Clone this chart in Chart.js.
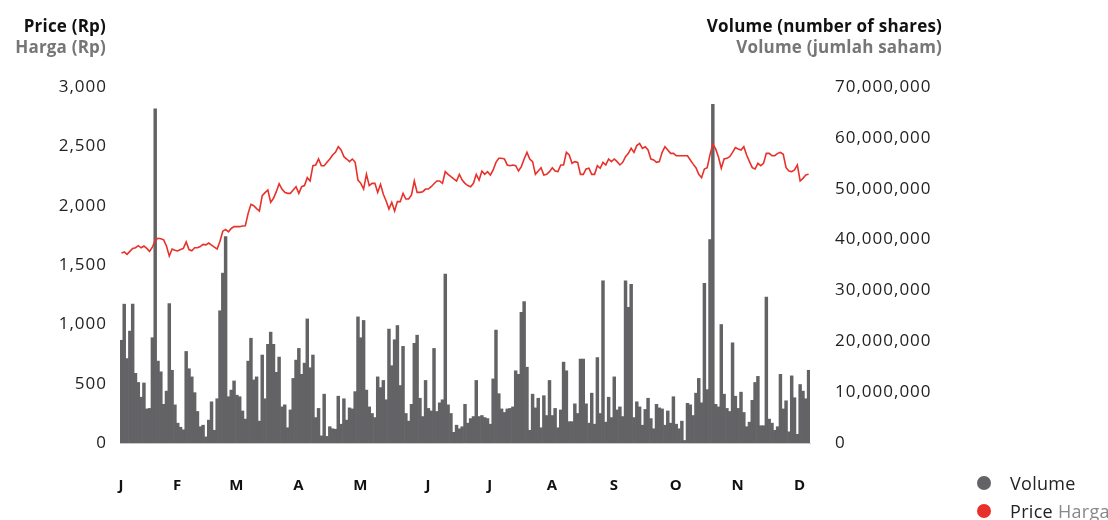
<!DOCTYPE html>
<html>
<head>
<meta charset="utf-8">
<script src="https://cdn.jsdelivr.net/npm/chart.js@4.4.1/dist/chart.umd.min.js"></script>
<style>
  body { margin: 0; background: #fff; font-family: "Open Sans", sans-serif; }
  #wrap { position: relative; width: 1108px; height: 520px; }
  canvas { position: absolute; left: 0; top: 0; }
  .t { position: absolute; font-size: 17px; font-weight: bold; line-height: 21px; letter-spacing: 0.2px; white-space: nowrap; }
  .dark { color: #111; }
  .grey { color: #767676; }
  .lg { position: absolute; font-size: 18px; line-height: 22px; letter-spacing: 0.3px; color: #222; white-space: nowrap; }
  .dot { position: absolute; width: 14px; height: 14px; border-radius: 50%; }
</style>
</head>
<body>
<div id="wrap">
  <canvas id="stock-chart" width="1108" height="520"></canvas>
  <div class="t dark" style="right:1002px; top:15px;">Price (Rp)</div>
  <div class="t grey" style="right:1002px; top:36px;">Harga (Rp)</div>
  <div class="t dark" style="right:166px; top:15px;">Volume (number of shares)</div>
  <div class="t grey" style="right:166px; top:36px;">Volume (jumlah saham)</div>
  <div class="dot" style="left:977px; top:476px; background:#636366;"></div>
  <div class="lg" style="left:1010px; top:472px;">Volume</div>
  <div class="dot" style="left:977px; top:504px; background:#e8312a;"></div>
  <div class="lg" style="left:1010px; top:500px;">Price <span style="color:#888">Harga</span></div>
</div>
<script>
// Month letters and the trading-day index where each one is printed
var monthLetters = ['J', 'F', 'M', 'A', 'M', 'J', 'J', 'A', 'S', 'O', 'N', 'D'];
var monthStartIdx = [0, 20, 41, 63, 85, 109, 131, 153, 175, 197, 219, 241];

// Daily closing price (Rp)
var price = [
  1600, 1610, 1590, 1615, 1640, 1646, 1663, 1645, 1660, 1640,
  1615, 1650, 1710, 1725, 1722, 1712, 1660, 1575, 1635, 1625,
  1618, 1630, 1640, 1695, 1630, 1620, 1645, 1645, 1655, 1674,
  1670, 1685, 1668, 1650, 1635, 1700, 1785, 1800, 1780, 1808,
  1823, 1823, 1823, 1828, 1831, 1935, 2011, 2000, 1975, 1955,
  2084, 2110, 2132, 2028, 2062, 2118, 2185, 2140, 2112, 2104,
  2104, 2132, 2160, 2104, 2160, 2169, 2236, 2208, 2337, 2343,
  2393, 2337, 2337, 2365, 2393, 2427, 2449, 2497, 2469, 2413,
  2393, 2371, 2393, 2365, 2216, 2188, 2140, 2264, 2169, 2188,
  2188, 2112, 2180, 2096, 2039, 1972, 2028, 1955, 2034, 2034,
  2104, 2056, 2056, 2090, 2208, 2112, 2112, 2118, 2140, 2140,
  2160, 2185, 2208, 2208, 2188, 2287, 2264, 2244, 2225, 2208,
  2264, 2216, 2188, 2169, 2160, 2188, 2264, 2216, 2292, 2264,
  2287, 2258, 2301, 2365, 2399, 2399, 2393, 2343, 2337, 2343,
  2337, 2292, 2329, 2393, 2449, 2393, 2371, 2264, 2292, 2320,
  2258, 2264, 2287, 2320, 2292, 2287, 2343, 2343, 2449, 2427,
  2357, 2371, 2365, 2264, 2264, 2309, 2315, 2264, 2264, 2337,
  2315, 2365, 2343, 2393, 2371, 2393, 2371, 2343, 2365, 2413,
  2441, 2483, 2449, 2506, 2525, 2483, 2497, 2469, 2393, 2385,
  2365, 2371, 2449, 2497, 2469, 2441, 2441, 2421, 2421, 2421,
  2421, 2421, 2385, 2350, 2320, 2264, 2236, 2309, 2320, 2430,
  2517, 2478, 2410, 2315, 2393, 2399, 2413, 2449, 2489, 2478,
  2469, 2497, 2427, 2371, 2320, 2309, 2357, 2337, 2357, 2441,
  2441, 2421, 2421, 2441, 2449, 2433, 2320, 2292, 2287, 2301,
  2343, 2208, 2230, 2258, 2264
];

// Daily traded volume, millions of shares
var volumeMillions = [
  20.2, 27.3, 16.6, 22.0, 27.3, 13.7, 11.9, 9.0, 11.8, 6.7,
  6.8, 20.7, 65.7, 16.1, 14.0, 7.6, 10.2, 27.4, 14.3, 7.5,
  3.9, 3.1, 2.6, 18.0, 14.6, 13.0, 9.9, 6.2, 3.2, 3.5,
  1.2, 4.5, 8.1, 2.5, 8.7, 26.0, 33.4, 40.6, 9.1, 10.4,
  12.2, 9.4, 9.1, 6.3, 4.7, 16.1, 20.6, 12.4, 13.0, 4.3,
  17.3, 8.7, 19.4, 21.8, 19.4, 13.9, 16.9, 7.1, 7.5, 3.0,
  6.5, 12.7, 16.3, 18.6, 13.5, 15.7, 24.4, 14.8, 17.3, 5.0,
  6.8, 1.4, 9.6, 1.3, 3.2, 2.8, 2.7, 9.2, 3.7, 8.7,
  4.5, 6.9, 6.7, 10.1, 24.8, 20.7, 24.1, 10.4, 7.1, 5.8,
  5.0, 13.0, 10.9, 12.3, 8.5, 22.4, 15.2, 20.3, 23.1, 11.3,
  19.0, 5.8, 4.3, 7.6, 19.6, 21.2, 8.8, 5.2, 12.3, 6.8,
  6.3, 18.6, 6.2, 7.9, 8.5, 33.2, 7.5, 5.8, 2.1, 3.5,
  2.8, 3.2, 7.6, 3.9, 4.8, 5.2, 12.3, 5.2, 5.4, 5.0,
  4.8, 3.7, 12.6, 22.2, 9.7, 6.7, 6.0, 6.7, 6.8, 7.1,
  14.2, 13.5, 25.7, 27.8, 14.9, 2.5, 9.6, 6.9, 8.8, 3.0,
  9.3, 5.4, 12.3, 5.4, 6.8, 3.0, 6.5, 15.9, 14.2, 4.2,
  4.2, 7.7, 5.8, 16.5, 16.5, 7.7, 3.9, 9.8, 3.7, 16.8,
  5.8, 31.9, 4.1, 9.0, 5.0, 13.0, 6.5, 7.1, 5.2, 31.9,
  26.7, 31.2, 5.0, 8.1, 7.1, 3.5, 6.6, 8.8, 4.8, 2.8,
  7.6, 6.9, 6.7, 3.5, 6.3, 3.9, 9.1, 3.7, 2.8, 4.3,
  0.5, 7.8, 7.5, 5.4, 9.8, 12.7, 7.9, 31.4, 10.5, 40.0,
  66.6, 7.6, 7.1, 23.3, 9.6, 6.8, 6.2, 19.7, 9.2, 6.8,
  10.0, 6.0, 3.2, 4.1, 8.4, 11.9, 13.1, 3.4, 3.4, 28.7,
  4.7, 3.9, 2.5, 3.2, 13.5, 6.7, 8.3, 2.2, 13.2, 8.9,
  1.7, 11.5, 10.2, 8.7, 14.3
];

// one category per trading day
var days = [];
for (var i = 0; i < price.length; i++) days.push(String(i + 1));

var volume = volumeMillions.map(function(v) { return v * 1000000; });

function fmt(n) {
  return Math.round(n).toString().replace(/\B(?=(\d{3})+(?!\d))/g, ',');
}

var tickFont = { family: '"Open Sans", sans-serif', size: 17 };

// reference tick labels are set a little wider than Open Sans
var spacingPlugin = {
  id: 'spacing',
  beforeDraw: function(chart) { chart.ctx.letterSpacing = '1px'; }
};

var ctx = document.getElementById('stock-chart').getContext('2d');
var chart = new Chart(ctx, {
  type: 'bar',
  data: {
    labels: days,
    datasets: [{
      type: 'line',
      label: 'Price',
      data: price,
      yAxisID: 'yPrice',
      borderColor: '#e8312a',
      borderWidth: 1.6,
      pointRadius: 0,
      tension: 0,
      order: 0
    }, {
      type: 'bar',
      label: 'Volume',
      data: volume,
      yAxisID: 'yVol',
      backgroundColor: '#636366',
      borderWidth: 0,
      barPercentage: 1.0,
      categoryPercentage: 1.0,
      order: 1
    }]
  },
  plugins: [spacingPlugin],
  options: {
    responsive: false,
    animation: false,
    layout: { padding: { top: 87, left: 0, right: 0, bottom: 0 } },
    plugins: {
      legend: { display: false },
      tooltip: { enabled: false }
    },
    scales: {
      x: {
        grid: { display: false, drawTicks: false },
        border: { display: true, color: '#c8c8c8', width: 1 },
        ticks: {
          autoSkip: false,
          maxRotation: 0,
          minRotation: 0,
          padding: 34,
          color: '#111',
          font: { family: '"Open Sans", sans-serif', size: 15, weight: 'bold' },
          callback: function(value, index) {
            var k = monthStartIdx.indexOf(index);
            return k >= 0 ? monthLetters[k] : '';
          }
        },
        afterFit: function(scale) { scale.height = 77; }
      },
      yPrice: {
        position: 'left',
        min: 0,
        max: 3000,
        grid: { display: false, drawTicks: false },
        border: { display: false },
        ticks: {
          stepSize: 500,
          padding: 13,
          color: '#222',
          font: tickFont,
          callback: function(v) { return fmt(v); }
        },
        afterFit: function(scale) { scale.width = 120; }
      },
      yVol: {
        position: 'right',
        min: 0,
        max: 70000000,
        grid: { display: false, drawTicks: false },
        border: { display: false },
        ticks: {
          stepSize: 10000000,
          padding: 25,
          color: '#222',
          font: tickFont,
          callback: function(v) { return fmt(v); }
        },
        afterFit: function(scale) { scale.width = 298; }
      }
    }
  }
});
</script>
</body>
</html>
